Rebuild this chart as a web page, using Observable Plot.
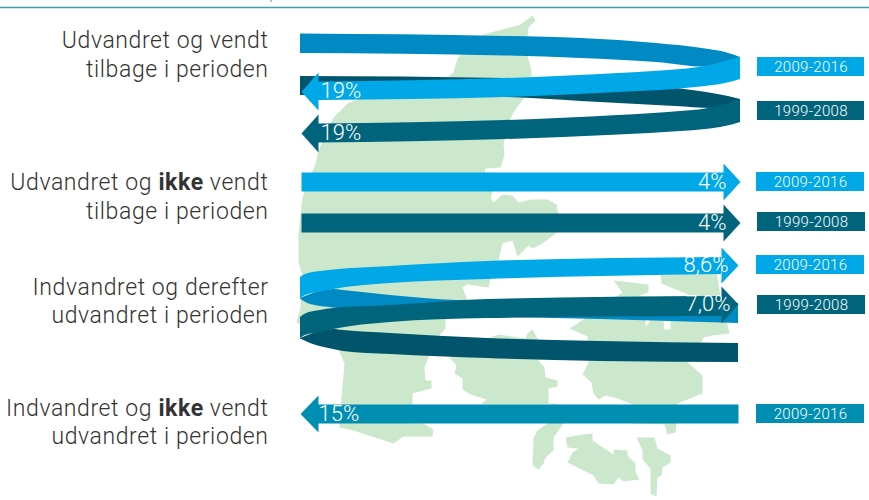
<!DOCTYPE html>
<html><head><meta charset="utf-8">
<script src="https://cdn.jsdelivr.net/npm/d3@7"></script>
<script src="https://cdn.jsdelivr.net/npm/@observablehq/plot@0.6"></script>
<style>html,body{margin:0;padding:0;background:#fff}svg{display:block}</style>
</head><body><div id="chart"></div>
<script>
// Texts and read values
const categories = [
  ["Udvandret og vendt","tilbage i perioden"],
  ["Udvandret og ikke vendt","tilbage i perioden"],
  ["Indvandret og derefter","udvandret i perioden"],
  ["Indvandret og ikke vendt","udvandret i perioden"]
];
const categoryLineY = [[40,69],[182,211],[287,315],[408,436]];
const periods = ["2009-2016","1999-2008","2009-2016","1999-2008","2009-2016","1999-2008","2009-2016"];
const shares = ["19%","19%","4%","4%","8,6%","7,0%","15%"];
const rowColors = ["#00a8e8","#00647c","#00a8e8","#00647c","#00a8e8","#00647c","#008fb2"];
const periodBox = [[757,864,57,76],[757,864,101,120],[756,864,172,191],[757,865,212,231],[756,864,255,274],[757,865,295,314],[756,864,404,423]];
const shareAnchor = [[320,90.5,"start"],[320,132.5,"start"],[726,181,"end"],[726,222,"end"],[728,264.5,"end"],[730,303.5,"end"],[318,413,"start"]];

// Ribbons as traced: [x, top edge, bottom edge]
const backLight1 = [[300,33.5,53],[505,36,55.5],[581,38,58],[656,43,62],[705,48.5,66.7],[725,52,66],[740,57,62]];
const frontLight1 = [[318,81.5,100],[505,78,97],[618,73,92],[680,69,88.5],[705,66,86],[725,61,83],[740,57,79]];
const backDark1 = [[300,76,95],[505,78,97],[581,82,101],[675,88,106],[712,93,108],[728,96,106],[740,99,103]];
const frontDark1 = [[318,123.5,142.5],[505,120,139],[618,115,134.5],[680,111,131],[705,108.5,129],[725,104,126],[740,99,122]];
const backMid3 = [[300,298,298.5],[310,294,304],[333,289,307.5],[343,290,309],[390,295,312],[457,300,315],[600,302,319],[738,303,323]];
const frontLight3 = [[300,277,298],[305,274,295],[320,271,291.5],[333,269.5,289],[390,266,283],[487,261,279],[721,257,274]];
const backDark3 = [[300,338,338.5],[310,334,343],[333,329,349],[343,330,351],[390,333,354],[487,338,358],[600,341,361],[738,343,362]];
const frontDark3 = [[300,317,338],[305,313.5,335],[320,310,332],[333,308,329],[390,305,322],[487,299,318],[721,296,316]];

// Arrow outlines and straight bars: [x, y]
const headLight1 = [[318,72],[301,91.5],[318,110]];
const headDark1 = [[318,114],[301,133],[318,152]];
const arrowLight2 = [[301,172],[723,172],[723,163],[740,181.5],[723,200],[723,191],[301,191]];
const arrowDark2 = [[301,213],[723,213],[723,204],[740,222.5],[723,241],[723,232],[301,232]];
const headLight3 = [[721,247],[738,265],[721,283]];
const headDark3 = [[721,286],[738,304],[721,323]];
const arrowTeal4 = [[738,404],[318,404],[318,395],[300,413.5],[318,432],[318,423],[738,423]];

// Map outline (Denmark), traced
const jutland = [[532,15],[535,20],[528,27],[527,36],[527,55],[531,70],[531,78],[523,98],[513,112],[508,123],[503,143],[504,155],[500,167],[485,168],[484,173],[492,192],[490,197],[493,202],[502,194],[512,195],[518,202],[530,199],[547,199],[556,204],[558,215],[555,233],[542,243],[532,248],[528,245],[517,256],[512,240],[502,243],[498,260],[490,278],[488,287],[467,284],[462,287],[467,300],[445,320],[445,328],[437,337],[428,357],[424,367],[425,380],[431,380],[431,388],[412,393],[412,403],[412,423],[423,423],[433,429],[432,436],[403,436],[393,443],[353,430],[339,427],[339,420],[344,363],[337,347],[320,335],[296,322],[300,307],[302,275],[298,262],[298,233],[302,197],[315,163],[318,150],[333,117],[347,103],[380,90],[447,77],[453,72],[457,58],[465,50],[483,34],[520,24]];
const funen = [[449,357],[470,345],[487,338],[498,334],[525,338],[527,333],[532,329],[538,340],[538,360],[544,367],[545,377],[557,380],[557,386],[548,388],[548,404],[480,404],[486,399],[470,394],[462,389],[462,378],[454,373],[456,365]];
const langeland = [[548,403],[556,403],[563,423],[553,437],[553,450],[545,457],[543,463],[538,469],[532,465],[533,438],[537,430],[547,423]];
const zealand = [[569,328],[577,323],[622,292],[613,280],[648,284],[648,292],[639,295],[650,297],[690,295],[661,283],[660,270],[716,270],[720,296],[726,320],[729,333],[712,335],[703,337],[700,343],[687,362],[692,366],[702,375],[702,393],[677,403],[676,423],[675,432],[667,434],[664,424],[633,423],[633,404],[617,398],[605,395],[598,399],[593,393],[591,382],[582,374],[588,362],[587,336]];
const lolland = [[565,437],[582,434],[592,433],[592,440],[613,454],[613,449],[627,450],[627,455],[635,463],[635,472],[639,479],[623,481],[618,477],[613,484],[598,483],[593,475],[585,471],[567,462],[572,452],[578,448],[567,447]];
const falster = [[636,437],[654,437],[657,448],[670,455],[670,462],[662,467],[661,475],[657,477],[656,496],[650,493],[650,468],[642,459],[642,450]];
const fjord = [[645,326],[650,320],[663,320],[664,329],[670,329],[670,320],[645,316]];

const C = {map:"#cce8cc", lightBack:"#008ac4", light:"#00a8e8", darkBack:"#00556d", dark:"#00647c", teal:"#008fb2", line:"#3a9fb8"};
const FONT = "Roboto, sans-serif";

const shape = (pts, fill) => Plot.line(pts, {x:d=>d[0], y:d=>d[1], fill, stroke:"none", curve:"linear-closed"});
const ribbon = (rows, fill) => Plot.area(rows, {x1:d=>d[0], y1:d=>d[1], y2:d=>d[2], fill, curve:"monotone-x"});

const lines = categories.flatMap((c,i)=>c.map((t,j)=>({t, y:categoryLineY[i][j]})));
const boxes = periods.map((p,i)=>({p, x1:periodBox[i][0], x2:periodBox[i][1], y1:periodBox[i][2], y2:periodBox[i][3], c:rowColors[i]}));
const labels = shares.map((s,i)=>({s, x:shareAnchor[i][0], y:shareAnchor[i][1], a:shareAnchor[i][2]}));
const shareText = anchor => Plot.text(labels.filter(d=>d.a===anchor),{x:"x",y:"y",text:"s",textAnchor:anchor,fill:"#fff",fontSize:22,fontWeight:300,lineAnchor:"middle"});

const chart = Plot.plot({
  width:869, height:500, margin:0,
  x:{domain:[0,869], range:[0,869], axis:null},
  y:{domain:[0,500], range:[0,500], axis:null},
  style:{background:"#fff", fontFamily:FONT},
  marks:[
    Plot.ruleY([7],{stroke:C.line, strokeWidth:1.5}),
    Plot.ruleX([270.5],{y1:0,y2:2,stroke:C.line}),
    shape(jutland,C.map), shape(funen,C.map), shape(langeland,C.map), shape(zealand,C.map), shape(lolland,C.map), shape(falster,C.map), shape(fjord,"#fff"),
    ribbon(backDark1,C.darkBack), ribbon(frontDark1,C.dark), shape(headDark1,C.dark),
    ribbon(backLight1,C.lightBack), ribbon(frontLight1,C.light), shape(headLight1,C.light),
    shape(arrowLight2,C.light), shape(arrowDark2,C.dark),
    ribbon(backMid3,C.lightBack), ribbon(frontLight3,C.light), shape(headLight3,C.light),
    ribbon(backDark3,C.darkBack), ribbon(frontDark3,C.dark), shape(headDark3,C.dark),
    shape(arrowTeal4,C.teal),
    Plot.rect(boxes,{x1:"x1",x2:"x2",y1:"y1",y2:"y2",fill:"c"}),
    Plot.text(boxes,{x:d=>(d.x1+d.x2)/2,y:d=>(d.y1+d.y2)/2,text:"p",fill:"#fff",fontSize:15,fontWeight:300,lineAnchor:"middle",className:"per"}),
    shareText("start"), shareText("end"),
    Plot.text(lines,{x:268,y:"y",text:"t",textAnchor:"end",fill:"#333",fontSize:23,fontWeight:300,lineAnchor:"middle",className:"cat"})
  ]
});
// "ikke" is set bold inside its line
d3.select(chart).selectAll("g.cat text").each(function(){
  const s = this.textContent;
  if(!s.includes(" ikke ")) return;
  const [a,b] = s.split(" ikke ");
  const el = d3.select(this).text(null);
  el.append("tspan").text(a+" ");
  el.append("tspan").attr("font-weight",700).text("ikke");
  el.append("tspan").text(" "+b);
});
d3.select(chart).selectAll("g.cat text").style("letter-spacing","0.6px");
d3.select(chart).selectAll("g.per text").style("letter-spacing","0.3px");
document.getElementById("chart").append(chart);
</script></body></html>
